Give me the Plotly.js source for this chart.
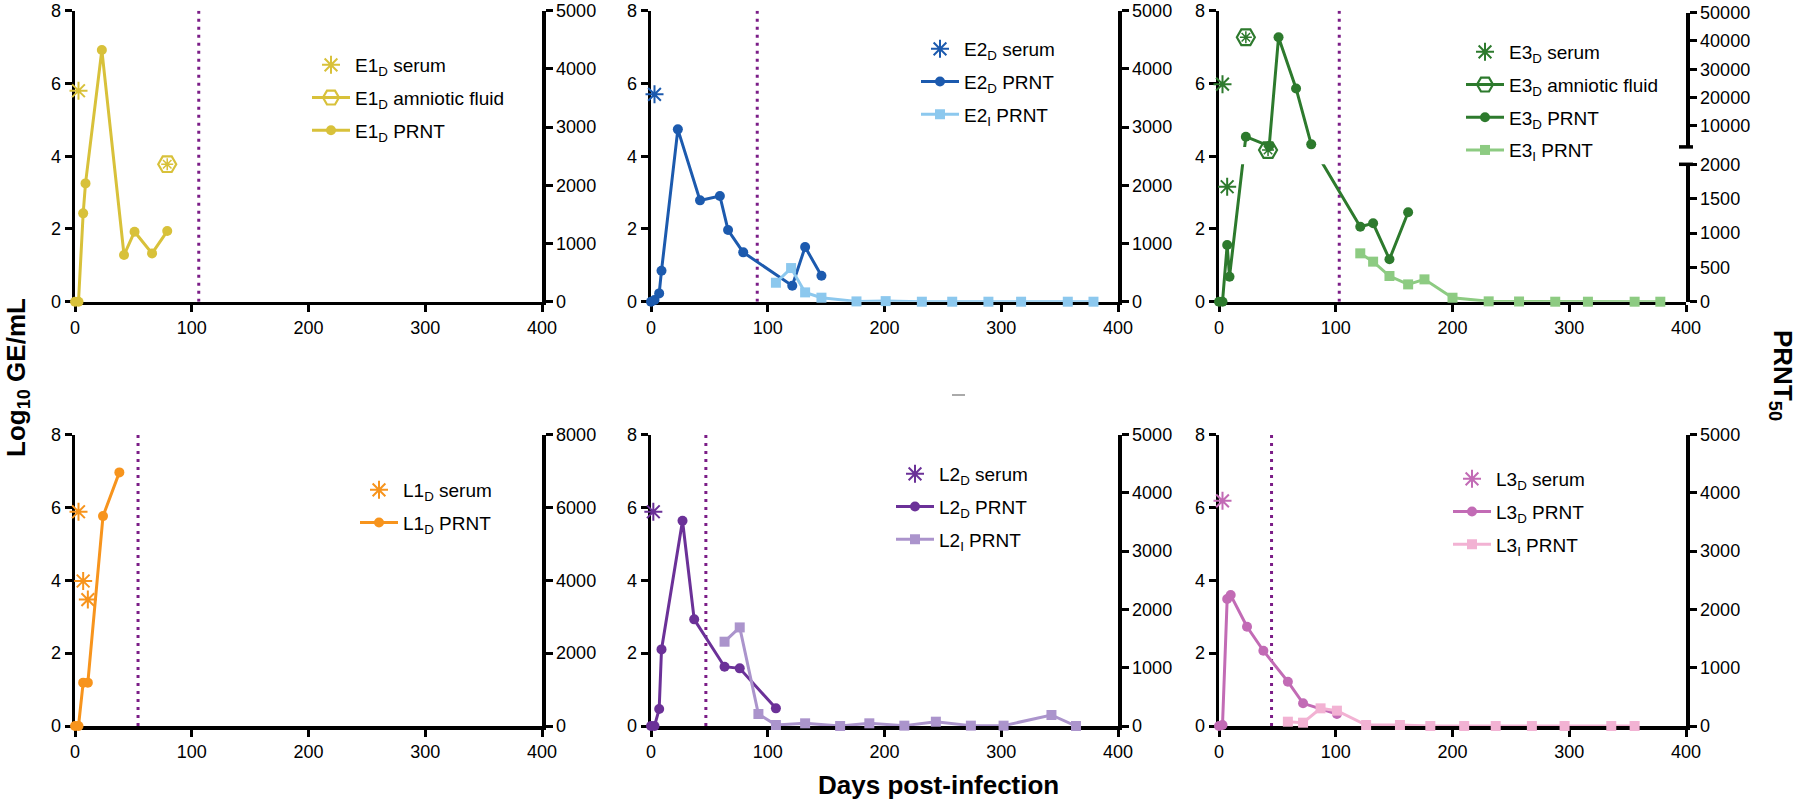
<!DOCTYPE html>
<html><head><meta charset="utf-8">
<script src="https://cdn.plot.ly/plotly-3.0.1.min.js"></script>
<style>html,body{margin:0;padding:0;background:#fff;}#chart{width:1800px;height:803px;}</style>
</head><body><div id="chart"></div>
<script>
// ---------------- data ----------------
const e1SerumDay = [3];            const e1SerumLog = [5.8];
const e1AmnioDay = [79];           const e1AmnioLog = [3.78];
const e1DPrntDay = [0, 3, 7, 9, 23, 42, 51, 66, 79];
const e1DPrnt    = [0, 0, 1518, 2033, 4324, 802, 1203, 830, 1214];

const e2SerumDay = [3];            const e2SerumLog = [5.7];
const e2DPrntDay = [0, 3, 7, 9, 23, 42, 59, 66, 79, 121, 132, 146];
const e2DPrnt    = [0, 29, 143, 533, 2961, 1741, 1816, 1231, 848, 275, 939, 447];
const e2IPrntDay = [107, 120, 132, 146, 176, 201, 232, 258, 289, 317, 357, 379];
const e2IPrnt    = [326, 578, 160, 69, 5, 10, 0, 0, 0, 0, 0, 0];

const e3SerumDay = [3, 7];         const e3SerumLog = [5.98, 3.16];
const e3AmnioDay = [23, 42];       const e3AmnioLog = [7.27, 4.17];
const e3DPrntDay = [0, 3, 7, 9, 23, 43, 51, 66, 79, 121, 132, 146, 162];
const e3DPrnt    = [0, 0, 825, 364, 6100, 2800, 41300, 23200, 3400, 1092, 1141, 617, 1301];
const e3IPrntDay = [121, 132, 146, 162, 176, 200, 231, 257, 288, 316, 356, 378];
const e3IPrnt    = [704, 583, 374, 252, 325, 58, 5, 3, 0, 0, 0, 0];

const l1SerumDay = [3, 7, 11];     const l1SerumLog = [5.88, 3.98, 3.47];
const l1DPrntDay = [0, 3, 7, 11, 24, 38];
const l1DPrnt    = [0, 0, 1190, 1190, 5760, 6960];

const l2SerumDay = [2];            const l2SerumLog = [5.88];
const l2DPrntDay = [0, 3, 7, 9, 27, 37, 63, 76, 107];
const l2DPrnt    = [0, 0, 291, 1314, 3520, 1829, 1017, 989, 303];
const l2IPrntDay = [63, 76, 92, 107, 132, 162, 187, 217, 244, 274, 302, 343, 364];
const l2IPrnt    = [1446, 1691, 206, 17, 46, 0, 46, 6, 74, 6, 6, 189, 0];

const l3SerumDay = [3];            const l3SerumLog = [6.18];
const l3DPrntDay = [0, 3, 7, 10, 24, 38, 59, 72, 101];
const l3DPrnt    = [0, 17, 2177, 2246, 1703, 1291, 760, 389, 206];
const l3IPrntDay = [59, 72, 87, 101, 126, 155, 181, 210, 237, 268, 296, 336, 356];
const l3IPrnt    = [74, 57, 303, 263, 17, 17, 0, 0, 0, 0, 0, 0, 0];

const deliveryDay = [106, 91, 103, 54, 47, 45];   // dotted vertical lines per panel

const xTicks = [0, 100, 200, 300, 400];
const logTicks = [0, 2, 4, 6, 8];
const prnt5000Ticks = [0, 1000, 2000, 3000, 4000, 5000];
const prnt8000Ticks = [0, 2000, 4000, 6000, 8000];
const e3LowTicks = [0, 500, 1000, 1500, 2000];
const e3UpTicks = [10000, 20000, 30000, 40000, 50000];
const e3LowMax = 2000, e3UpMin = 2500, e3UpMax = 50000;

// ---------------- styling / geometry ----------------
const FONT = '"Liberation Sans", Arial, Helvetica, sans-serif';
const W = 1800, H = 803;
const xDomPx = [[75, 542], [651, 1118], [1219, 1686]];
const rowPx = [[301.7, 10.7], [726, 434.5]];          // [y of 0, y of 8]
const legendPx = [[331, 65], [940, 49], [1485, 52], [379, 490], [915, 474], [1472, 479]];
const C = {
  e1: '#D8C13A', e2d: '#1C5AAE', e2i: '#8CC8EE', e3d: '#2D7A2D', e3i: '#8DCB82',
  l1: '#F7941D', l2d: '#6B3198', l2i: '#AB94CC', l3d: '#C26BB5', l3i: '#F2B2D3', dot: '#7B1D87'
};
// E3 broken right axis: fractions of panel height
const fL = 137.4 / 291, fU0 = 154.8 / 291, fU1 = 289 / 291;
const tE3 = v => v <= e3LowMax ? v / e3LowMax * fL
                               : fU0 + (v - e3UpMin) / (e3UpMax - e3UpMin) * (fU1 - fU0);

const axId = (l, n) => n === 1 ? l : l + n;
const axKey = (l, n) => l + 'axis' + (n === 1 ? '' : n);
const legId = i => i === 0 ? 'legend' : 'legend' + (i + 1);
const ITEMW = 38;

const axisBase = {
  showgrid: false, zeroline: false, showline: true, linecolor: '#000', linewidth: 3.5,
  ticks: 'outside', ticklen: 7, tickwidth: 3, tickcolor: '#000',
  tickfont: { family: FONT, size: 18, color: '#000' }, fixedrange: true, layer: 'below traces'
};

const layout = {
  width: W, height: H, margin: { l: 0, r: 0, t: 0, b: 0 },
  paper_bgcolor: '#fff', plot_bgcolor: 'rgba(0,0,0,0)',
  font: { family: FONT, color: '#000' }, showlegend: true,
  shapes: [], annotations: []
};
const traces = [];

for (let i = 0; i < 6; i++) {
  const col = i % 3, row = Math.floor(i / 3);
  const xn = i + 1, yl = 2 * i + 1, yr = 2 * i + 2;
  const xd = [xDomPx[col][0] / W, xDomPx[col][1] / W];
  const yd = [1 - rowPx[row][0] / H, 1 - rowPx[row][1] / H];
  layout[axKey('x', xn)] = Object.assign({}, axisBase, {
    domain: xd, range: [0, 400], tickvals: xTicks, anchor: axId('y', yl)
  });
  layout[axKey('y', yl)] = Object.assign({}, axisBase, {
    domain: yd, range: [0, 8], tickvals: logTicks, anchor: axId('x', xn)
  });
  if (i === 2) {
    const h = yd[1] - yd[0];
    layout[axKey('y', yr)] = Object.assign({}, axisBase, {
      domain: [yd[0], yd[0] + fL * h], range: [0, fL], anchor: axId('x', xn), side: 'right',
      tickvals: e3LowTicks.map(tE3), ticktext: e3LowTicks.map(String)
    });
    layout[axKey('y', 13)] = Object.assign({}, axisBase, {
      domain: [yd[0] + fU0 * h, yd[0] + fU1 * h], range: [fU0, fU1], anchor: axId('x', xn), side: 'right',
      tickvals: e3UpTicks.map(tE3), ticktext: e3UpTicks.map(String)
    });
    // break caps
    const xr = xd[1];
    [yd[0] + fL * h, yd[0] + fU0 * h].forEach(yy => layout.shapes.push({
      type: 'line', xref: 'paper', yref: 'paper', x0: xr - 7 / W, x1: xr + 7 / W, y0: yy, y1: yy,
      line: { color: '#000', width: 3.5 }
    }));
  } else {
    const ticks = i === 3 ? prnt8000Ticks : prnt5000Ticks;
    layout[axKey('y', yr)] = Object.assign({}, axisBase, {
      overlaying: axId('y', yl), side: 'right', anchor: axId('x', xn),
      range: [0, ticks[ticks.length - 1]], tickvals: ticks
    });
  }
  // dotted line
  layout.shapes.push({
    type: 'line', xref: axId('x', xn), yref: axId('y', yl), layer: 'below',
    x0: deliveryDay[i], x1: deliveryDay[i], y0: 0, y1: 8,
    line: { color: C.dot, width: 3, dash: '3px,5px' }
  });
  // legend
  const lp = legendPx[i];
  layout[legId(i)] = {
    x: (lp[0] - (ITEMW / 2 + 5)) / W, y: 1 - (lp[1] - 19) / H, xanchor: 'left', yanchor: 'top',
    bgcolor: 'rgba(0,0,0,0)', borderwidth: 0, traceorder: 'grouped', tracegroupgap: 5,
    itemwidth: ITEMW, font: { family: FONT, size: 19, color: '#000' }
  };
}

function ax(i) { return { x: axId('x', i + 1), yl: axId('y', 2 * i + 1), yr: axId('y', 2 * i + 2) }; }

function serum(i, days, vals, color, name) {
  const a = ax(i);
  traces.push({
    type: 'scatter', mode: 'markers', x: days, y: vals, xaxis: a.x, yaxis: a.yl,
    name: name, legend: legId(i), legendgroup: 'g' + i + 'a', cliponaxis: false,
    marker: { symbol: 'asterisk-open', size: 15, color: color, line: { color: color, width: 2 } }
  });
}
function amnio(i, days, vals, color, name) {
  const a = ax(i);
  days.forEach((d, k) => {
    traces.push({
      type: 'scatter', mode: 'lines+markers', x: [d], y: [vals[k]], xaxis: a.x, yaxis: a.yl,
      name: name, legend: legId(i), legendgroup: 'g' + i + 'b', showlegend: k === 0, cliponaxis: false,
      line: { color: color, width: 3 },
      marker: { symbol: 'hexagon2-open', size: 18, color: color, line: { color: color, width: 2.2 } }
    });
  });
  traces.push({
    type: 'scatter', mode: 'markers', x: days, y: vals, xaxis: a.x, yaxis: a.yl, showlegend: false,
    legend: legId(i), cliponaxis: false,
    marker: { symbol: 'asterisk-open', size: 10, color: color, line: { color: color, width: 1.5 } }
  });
}
function prnt(i, days, vals, color, name, sym, grp, yaxis, showleg) {
  const a = ax(i);
  traces.push({
    type: 'scatter', mode: 'lines+markers', x: days, y: vals, xaxis: a.x, yaxis: yaxis || a.yr,
    name: name, legend: legId(i), legendgroup: 'g' + i + grp, showlegend: showleg !== false,
    cliponaxis: false, line: { color: color, width: 3 },
    marker: { symbol: sym, size: 10, color: color }
  });
}

// E1
serum(0, e1SerumDay, e1SerumLog, C.e1, 'E1<sub>D</sub> serum');
amnio(0, e1AmnioDay, e1AmnioLog, C.e1, 'E1<sub>D</sub> amniotic fluid');
prnt(0, e1DPrntDay, e1DPrnt, C.e1, 'E1<sub>D</sub> PRNT', 'circle', 'c');
// E2
serum(1, e2SerumDay, e2SerumLog, C.e2d, 'E2<sub>D</sub> serum');
prnt(1, e2DPrntDay, e2DPrnt, C.e2d, 'E2<sub>D</sub> PRNT', 'circle', 'c');
prnt(1, e2IPrntDay, e2IPrnt, C.e2i, 'E2<sub>I</sub> PRNT', 'square', 'd');
// E3 (broken right axis)
serum(2, e3SerumDay, e3SerumLog, C.e3d, 'E3<sub>D</sub> serum');
amnio(2, e3AmnioDay, e3AmnioLog, C.e3d, 'E3<sub>D</sub> amniotic fluid');
prnt(2, e3DPrntDay, e3DPrnt.map(tE3), C.e3d, 'E3<sub>D</sub> PRNT', 'circle', 'c', 'y6');
prnt(2, e3DPrntDay, e3DPrnt.map(tE3), C.e3d, 'E3<sub>D</sub> PRNT', 'circle', 'c', 'y13', false);
prnt(2, e3IPrntDay, e3IPrnt.map(tE3), C.e3i, 'E3<sub>I</sub> PRNT', 'square', 'd', 'y6');
// L1
serum(3, l1SerumDay, l1SerumLog, C.l1, 'L1<sub>D</sub> serum');
prnt(3, l1DPrntDay, l1DPrnt, C.l1, 'L1<sub>D</sub> PRNT', 'circle', 'c');
// L2
serum(4, l2SerumDay, l2SerumLog, C.l2d, 'L2<sub>D</sub> serum');
prnt(4, l2DPrntDay, l2DPrnt, C.l2d, 'L2<sub>D</sub> PRNT', 'circle', 'c');
prnt(4, l2IPrntDay, l2IPrnt, C.l2i, 'L2<sub>I</sub> PRNT', 'square', 'd');
// L3
serum(5, l3SerumDay, l3SerumLog, C.l3d, 'L3<sub>D</sub> serum');
prnt(5, l3DPrntDay, l3DPrnt, C.l3d, 'L3<sub>D</sub> PRNT', 'circle', 'c');
prnt(5, l3IPrntDay, l3IPrnt, C.l3i, 'L3<sub>I</sub> PRNT', 'square', 'd');

// axis titles
const titleFont = { family: FONT, size: 26, color: '#000' };
layout.annotations.push(
  { text: '<b>Log<sub>10</sub> GE/mL</b>', xref: 'paper', yref: 'paper', x: 17 / W, y: 1 - 378 / H,
    textangle: -90, showarrow: false, font: titleFont, xanchor: 'center', yanchor: 'middle' },
  { text: '<b>PRNT<sub>50</sub></b>', xref: 'paper', yref: 'paper', x: 1782 / W, y: 1 - 375 / H,
    textangle: 90, showarrow: false, font: titleFont, xanchor: 'center', yanchor: 'middle' },
  { text: '<b>Days post-infection</b>', xref: 'paper', yref: 'paper', x: 939 / W, y: 1 - 785 / H,
    showarrow: false, font: titleFont, xanchor: 'center', yanchor: 'middle' }
);
// small grey artefact mark
layout.shapes.push({ type: 'line', xref: 'paper', yref: 'paper', x0: 952 / W, x1: 965 / W,
  y0: 1 - 395 / H, y1: 1 - 395 / H, line: { color: '#aaa', width: 2 } });

Plotly.newPlot('chart', traces, layout, { staticPlot: true, displayModeBar: false });
</script>
</body></html>
